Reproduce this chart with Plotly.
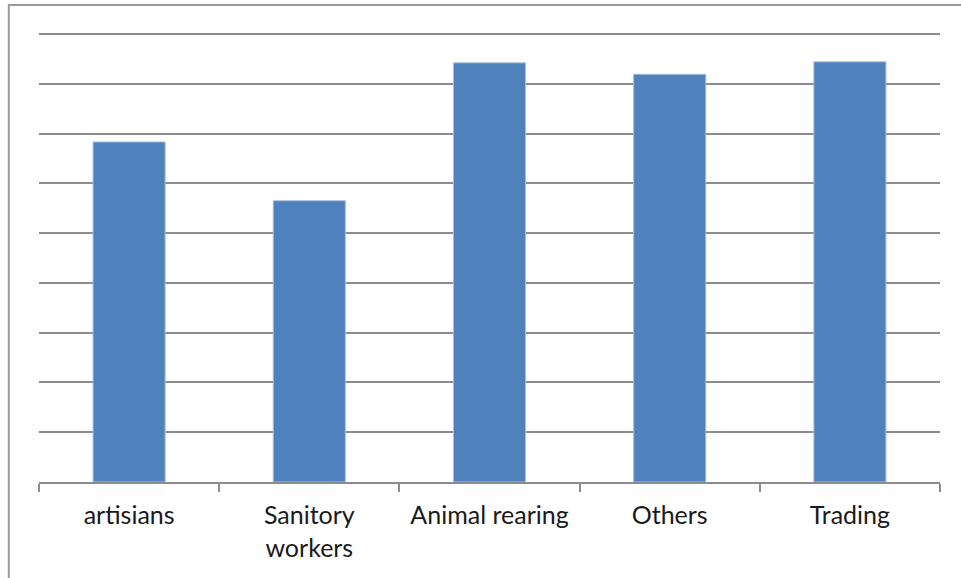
import plotly.graph_objects as go

# Occupation categories and their bar values (gridlines every 10 units)
categories = ["artisians", "Sanitory<br>workers", "Animal rearing", "Others", "Trading"]
values = [68.3, 56.5, 84.2, 81.9, 84.4]
y_max = 90
y_step = 10

bar_color = "#4F81BD"
grid_color = "#8C8C8C"

fig = go.Figure(
    go.Bar(
        x=categories,
        y=values,
        marker=dict(color=bar_color, line=dict(color="#A7BEDF", width=1)),
        hoverinfo="x+y",
    )
)

fig.update_layout(
    width=961,
    height=578,
    margin=dict(l=39, r=21, t=24, b=96),
    paper_bgcolor="white",
    plot_bgcolor="white",
    bargap=0.6,
    showlegend=False,
    font=dict(family="Lato, 'Open Sans', sans-serif", size=25, color="#1a1a1a"),
    shapes=[
        # outer chart frame (top and left edges visible)
        dict(
            type="rect",
            xref="paper",
            yref="paper",
            x0=-0.0335,
            x1=1.2,
            y0=-0.5,
            y1=1.0415,
            line=dict(color="#9A9A9A", width=2),
            fillcolor="rgba(0,0,0,0)",
            layer="below",
        )
    ],
)

fig.update_xaxes(
    type="category",
    showline=True,
    linecolor=grid_color,
    linewidth=2,
    ticks="outside",
    tickson="boundaries",
    ticklen=8,
    tickwidth=2,
    tickcolor=grid_color,
    showgrid=False,
    tickfont=dict(size=25),
    ticklabelstandoff=10,
)

fig.update_yaxes(
    range=[0, y_max + 2],
    tick0=0,
    dtick=y_step,
    showgrid=True,
    gridcolor=grid_color,
    gridwidth=1.5,
    showticklabels=False,
    zeroline=False,
    showline=False,
    ticks="",
)

fig.write_html("out.html")
